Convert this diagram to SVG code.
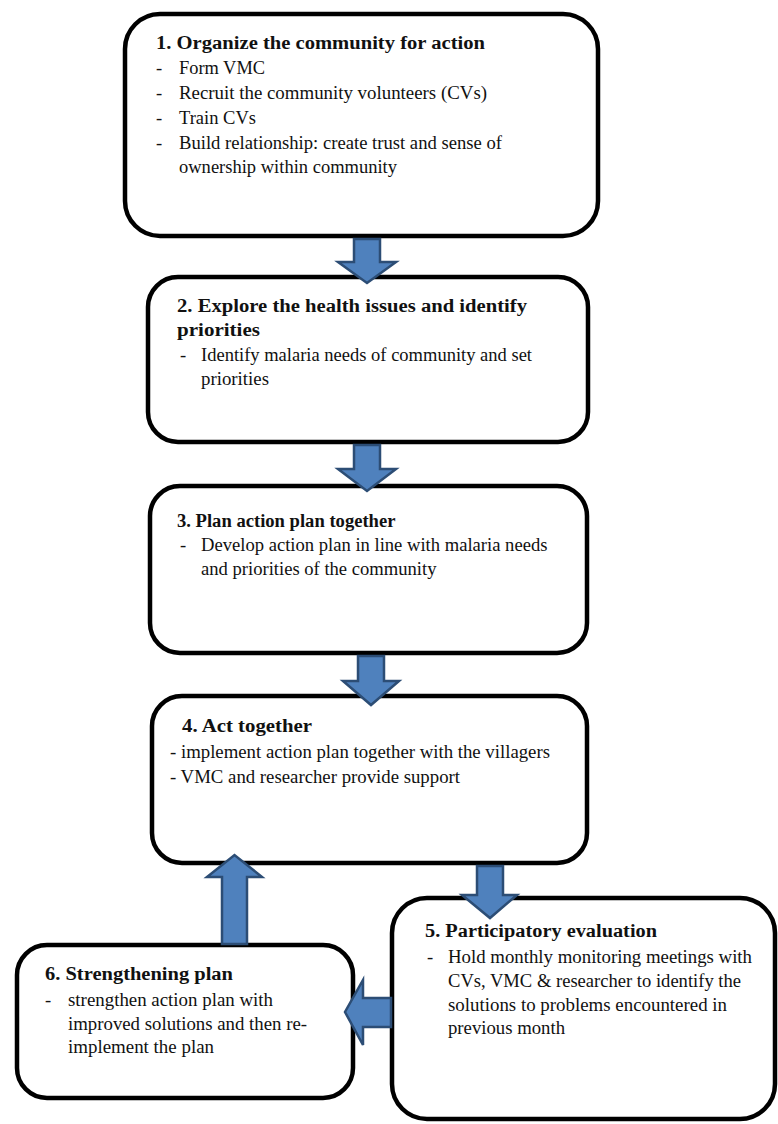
<svg xmlns="http://www.w3.org/2000/svg" width="778" height="1124" viewBox="0 0 778 1124">
<style>
.box{fill:#fff;stroke:#000;stroke-width:4.5}
.arr{fill:#4F81BD;stroke:#2C4D75;stroke-width:2.5;stroke-linejoin:miter}
text{font-family:"Liberation Serif","Times New Roman",serif;font-size:18.6px;fill:#111}
.t{font-weight:bold}
</style>
<rect width="778" height="1124" fill="#fff"/>
<g id="node1">
<rect class="box" x="125" y="14" width="473" height="222" rx="35"/>
<text class="t" x="156" y="49" textLength="329" lengthAdjust="spacingAndGlyphs">1. Organize the community for action</text>
<text x="156" y="74">-</text><text x="179" y="74" textLength="86" lengthAdjust="spacingAndGlyphs">Form VMC</text>
<text x="156" y="99">-</text><text x="179" y="99" textLength="308" lengthAdjust="spacingAndGlyphs">Recruit the community volunteers (CVs)</text>
<text x="156" y="124">-</text><text x="179" y="124" textLength="77" lengthAdjust="spacingAndGlyphs">Train CVs</text>
<text x="156" y="149">-</text><text x="179" y="149" textLength="323" lengthAdjust="spacingAndGlyphs">Build relationship: create trust and sense of</text>
<text x="179" y="173" textLength="218" lengthAdjust="spacingAndGlyphs">ownership within community</text>
</g>
<g id="node2">
<rect class="box" x="148" y="277" width="440" height="165" rx="30"/>
<text class="t" x="177" y="312" textLength="350" lengthAdjust="spacingAndGlyphs">2. Explore the health issues and identify</text>
<text class="t" x="177" y="336" textLength="83" lengthAdjust="spacingAndGlyphs">priorities</text>
<text x="180" y="361">-</text><text x="201" y="361" textLength="331" lengthAdjust="spacingAndGlyphs">Identify malaria needs of community and set</text>
<text x="201" y="385" textLength="68" lengthAdjust="spacingAndGlyphs">priorities</text>
</g>
<g id="node3">
<rect class="box" x="150" y="486" width="437" height="167" rx="30"/>
<text class="t" x="177" y="527">3. Plan action plan together</text>
<text x="180" y="551">-</text><text x="201" y="551">Develop action plan in line with malaria needs</text>
<text x="201" y="575">and priorities of the community</text>
</g>
<g id="node4">
<rect class="box" x="152" y="696" width="435" height="167" rx="30"/>
<text class="t" x="182" y="732" textLength="130" lengthAdjust="spacingAndGlyphs">4. Act together</text>
<text x="170" y="758" textLength="380" lengthAdjust="spacingAndGlyphs">- implement action plan together with the villagers</text>
<text x="170" y="783" textLength="290" lengthAdjust="spacingAndGlyphs">- VMC and researcher provide support</text>
</g>
<g id="node5">
<rect class="box" x="392" y="898" width="383" height="221" rx="35"/>
<text class="t" x="425" y="937" textLength="232" lengthAdjust="spacingAndGlyphs">5. Participatory evaluation</text>
<text x="427" y="963">-</text><text x="448" y="963" textLength="304" lengthAdjust="spacingAndGlyphs">Hold monthly monitoring meetings with</text>
<text x="448" y="987" textLength="293" lengthAdjust="spacingAndGlyphs">CVs, VMC &amp; researcher to identify the</text>
<text x="448" y="1011" textLength="279" lengthAdjust="spacingAndGlyphs">solutions to problems encountered in</text>
<text x="448" y="1034" textLength="117" lengthAdjust="spacingAndGlyphs">previous month</text>
</g>
<g id="node6">
<rect class="box" x="17" y="945" width="336" height="153" rx="30"/>
<text class="t" x="45" y="980" textLength="188" lengthAdjust="spacingAndGlyphs">6. Strengthening plan</text>
<text x="45" y="1006">-</text><text x="68" y="1006" textLength="205" lengthAdjust="spacingAndGlyphs">strengthen action plan with</text>
<text x="68" y="1030" textLength="239" lengthAdjust="spacingAndGlyphs">improved solutions and then re-</text>
<text x="68" y="1053" textLength="146" lengthAdjust="spacingAndGlyphs">implement the plan</text>
</g>
<g id="connectors">
<polygon class="arr" points="354,239 380,239 380,262 396,262 367,283 338,262 354,262"/>
<polygon class="arr" points="354,445 380,445 380,469 396,469 367,491 338,469 354,469"/>
<polygon class="arr" points="358,656 384,656 384,681 399,681 371,705 343,681 358,681"/>
<polygon class="arr" points="477,866 503,866 503,895 517,895 490,918 462,895 477,895"/>
<polygon class="arr" points="222,944 247,944 247,877 262,877 234.5,855 207,877 222,877"/>
<polygon class="arr" points="391,998 391,1027 363,1027 363,1045 345,1012 363,980 363,998"/>
</g>
</svg>
